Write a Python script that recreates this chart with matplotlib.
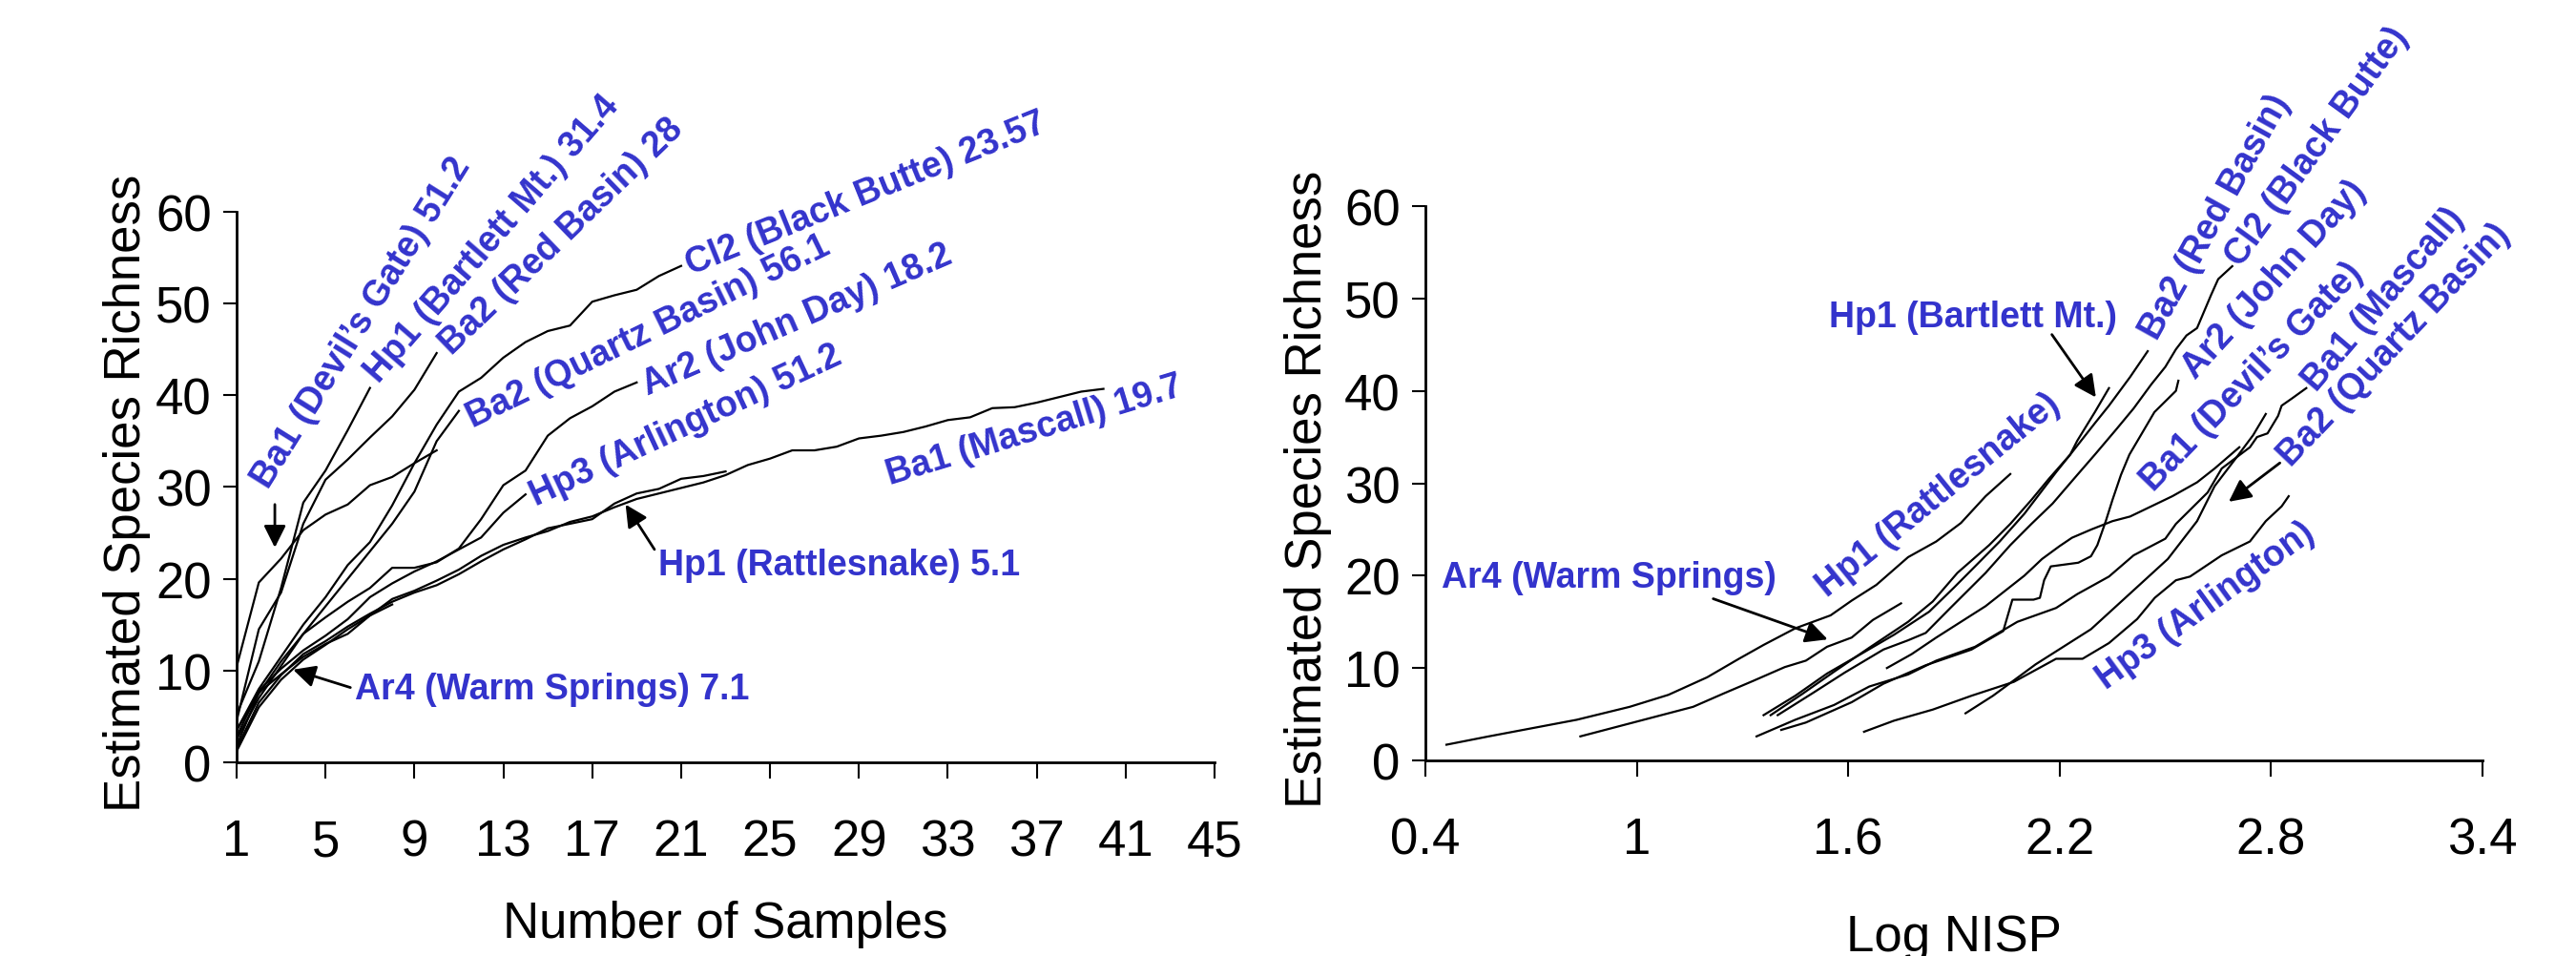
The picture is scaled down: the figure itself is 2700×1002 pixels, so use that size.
import matplotlib
matplotlib.use("Agg")
import matplotlib.pyplot as plt
import numpy as np

plt.rcParams['font.family'] = ['Liberation Sans', 'DejaVu Sans']

# ---------------- data: left panel (species richness vs number of samples) ----------------
S_devils_L = [10.4, 19.6, 22.2, 25.3, 27.0, 28.1, 30.2, 31.1, 32.6, 34.0]
S_bartlett_L = [5.2, 11.0, 19.0, 28.3, 31.8, 36.2, 40.8]
S_redbasin_L = [4.5, 14.5, 18.5, 26.0, 30.8, 33.0, 35.4, 37.7, 40.6, 44.6]
S_blackbutte_L = [3.5, 8.0, 11.5, 15.0, 18.0, 21.5, 24.0, 28.0, 32.6, 36.8, 40.4, 41.9, 44.1,
                  45.8, 47.0, 47.6, 50.2, 50.9, 51.5, 53.0, 54.1]
S_quartz_L = [2.5, 7.0, 10.5, 14.0, 17.0, 20.0, 23.0, 26.0, 29.5, 35.0, 38.3]
S_johnday_L = [3.5, 7.5, 11.0, 14.0, 15.8, 17.5, 19.0, 21.2, 21.2, 21.8, 23.3, 26.5, 30.2, 31.8,
               35.6, 37.5, 38.8, 40.4, 41.4]
S_arlington_L = [2.8, 7.8, 10.2, 12.2, 13.8, 15.6, 18.0, 19.5, 20.8, 21.9, 23.2, 24.5, 27.2, 29.2]
S_mascall_L = [1.8, 7.6, 9.6, 11.5, 12.9, 14.0, 16.0, 17.8, 18.7, 19.8, 21.0, 22.5, 23.7, 24.5,
               25.2, 26.2, 26.8, 27.8, 28.7, 29.3, 29.9, 30.5, 31.3, 32.4, 33.1, 34.0, 34.0, 34.4,
               35.3, 35.6, 36.0, 36.6, 37.3, 37.6, 38.6, 38.7, 39.2, 39.8, 40.4, 40.7]
S_rattle_L = [1.5, 6.5, 9.5, 11.8, 13.2, 14.8, 16.2, 17.5, 18.5, 19.3, 20.5, 21.9, 23.2, 24.3,
              25.5, 26.0, 26.5, 28.2, 29.3, 29.8, 30.9, 31.2, 31.7]
S_warm_L = [1.2, 6.0, 9.0, 11.2, 12.8, 14.5, 16.0, 17.2]

left_series = [S_devils_L, S_bartlett_L, S_redbasin_L, S_blackbutte_L, S_quartz_L,
               S_johnday_L, S_arlington_L, S_mascall_L, S_rattle_L, S_warm_L]

# ---------------- data: right panel (species richness vs log NISP) ----------------
L_rattle = [0.46, 0.58, 0.83, 0.98, 1.09, 1.20, 1.29, 1.36, 1.45, 1.55, 1.61, 1.68, 1.77, 1.85, 1.92, 1.99, 2.06]
S_rattle = [1.7, 2.6, 4.4, 5.8, 7.1, 9.0, 11.0, 12.5, 14.3, 15.7, 17.3, 19.0, 22.0, 23.7, 25.7, 28.6, 31.0]
L_warm = [0.84, 1.02, 1.16, 1.25, 1.33, 1.42, 1.48, 1.54, 1.61, 1.67, 1.75]
S_warm = [2.6, 4.4, 5.8, 7.3, 8.6, 10.1, 10.8, 12.3, 13.3, 15.2, 17.0]
L_bartlett = [1.36, 1.45, 1.54, 1.64, 1.73, 1.77, 1.83, 1.90, 1.96, 2.03, 2.10, 2.16, 2.19, 2.23, 2.25, 2.30, 2.34]
S_bartlett = [4.9, 7.0, 9.4, 11.6, 13.6, 14.6, 16.1, 18.7, 21.0, 23.7, 26.7, 29.7, 31.2, 33.1, 34.6, 37.7, 40.3]
L_redbasin = [1.38, 1.47, 1.56, 1.66, 1.77, 1.84, 1.91, 2.00, 2.06, 2.12, 2.17, 2.23, 2.30, 2.34, 2.40, 2.45]
S_redbasin = [4.9, 7.2, 9.6, 12.2, 15.0, 17.2, 20.3, 23.3, 25.6, 28.2, 30.5, 33.1, 36.5, 38.4, 41.5, 44.3]
L_blackbutte = [1.40, 1.50, 1.59, 1.70, 1.77, 1.82, 1.89, 1.99, 2.06, 2.12, 2.18, 2.25, 2.30, 2.36, 2.41, 2.46,
                2.50, 2.53, 2.56, 2.59, 2.63, 2.65, 2.69]
S_blackbutte = [4.9, 7.3, 9.5, 12.0, 13.0, 13.8, 16.5, 20.3, 23.3, 25.6, 27.8, 30.9, 33.1, 35.8, 38.1, 40.7,
                42.6, 44.5, 46.0, 46.8, 50.4, 52.1, 53.5]
L_johnday = [1.41, 1.48, 1.61, 1.70, 1.82, 1.95, 2.04, 2.066, 2.126, 2.144, 2.156, 2.175, 2.253, 2.289, 2.307,
             2.331, 2.35, 2.374, 2.398, 2.469, 2.53, 2.537]
S_johnday = [3.3, 4.1, 6.3, 8.3, 10.3, 12.0, 14.0, 17.4, 17.4, 17.6, 19.5, 21.0, 21.4, 22.1, 23.3,
             25.9, 28.2, 30.9, 33.1, 37.7, 40.0, 41.1]
L_devils = [1.71, 1.78, 1.85, 1.92, 1.99, 2.05, 2.10, 2.15, 2.20, 2.235, 2.29, 2.35, 2.40, 2.46, 2.52, 2.59, 2.64, 2.71]
S_devils = [10.0, 11.5, 13.3, 15.0, 16.7, 18.5, 20.0, 21.8, 23.2, 24.1, 25.0, 25.9, 26.4, 27.5, 28.6, 30.1, 31.6, 33.9]
L_mascall = [1.34, 1.45, 1.56, 1.66, 1.77, 1.85, 1.96, 2.08, 2.19, 2.25, 2.34, 2.41, 2.50, 2.53, 2.62, 2.66,
             2.74, 2.76, 2.79, 2.82, 2.83, 2.86, 2.90]
S_mascall = [2.6, 4.4, 6.0, 8.0, 9.3, 10.8, 12.3, 15.0, 16.5, 18.0, 19.9, 22.2, 24.0, 25.6, 29.0, 31.6,
             33.9, 35.0, 35.4, 37.3, 38.4, 39.2, 40.3]
L_arlington = [1.645, 1.73, 1.84, 1.95, 2.07, 2.19, 2.265, 2.34, 2.42, 2.47, 2.53, 2.57, 2.66, 2.74, 2.785, 2.83, 2.85]
S_arlington = [3.1, 4.3, 5.5, 7.0, 8.5, 11.0, 11.0, 12.7, 15.3, 17.6, 19.5, 19.9, 22.2, 23.7, 25.9, 27.5, 28.6]
L_quartz = [1.933, 2.011, 2.132, 2.289, 2.398, 2.507, 2.59, 2.64, 2.70, 2.749, 2.785]
S_quartz = [5.1, 7.0, 10.4, 14.2, 18.0, 21.8, 25.9, 29.7, 32.7, 35.2, 37.5]

right_series = [(L_rattle, S_rattle), (L_warm, S_warm), (L_bartlett, S_bartlett),
                (L_redbasin, S_redbasin), (L_blackbutte, S_blackbutte), (L_johnday, S_johnday),
                (L_devils, S_devils), (L_mascall, S_mascall), (L_arlington, S_arlington),
                (L_quartz, S_quartz)]

x_ticks_left = list(range(1, 46, 4))
x_ticks_right = [0.4, 1.0, 1.6, 2.2, 2.8, 3.4]
x_ticklabels_right = ['0.4', '1', '1.6', '2.2', '2.8', '3.4']
y_ticks = [0, 10, 20, 30, 40, 50, 60]

# labels: (text, x, y, rotation)
left_labels = [
    ("Ba1 (Devil\u2019s Gate) 51.2", 6.6, 48.0, 58),
    ("Hp1 (Bartlett Mt.) 31.4", 12.5, 57.1, 49),
    ("Ba2 (Red Basin) 28", 15.6, 57.4, 44),
    ("Cl2 (Black Butte) 23.57", 29.3, 62.0, 22),
    ("Ba2 (Quartz Basin) 56.1", 19.5, 47.0, 26),
    ("Ar2 (John Day) 18.2", 26.2, 48.3, 23.5),
    ("Hp3 (Arlington) 51.2", 21.2, 36.8, 25),
    ("Ba1 (Mascall) 19.7", 36.9, 36.2, 17),
    ("Hp1 (Rattlesnake) 5.1", 28.1, 21.5, 0),
    ("Ar4 (Warm Springs) 7.1", 15.2, 8.0, 0),
]
left_arrows = [((2.72, 28.1), (2.72, 23.4)), ((19.8, 23.2), (18.5, 28.1)), ((6.12, 8.15), (3.54, 10.1))]

right_labels = [
    ("Hp1 (Bartlett Mt.)", 1.953, 48.0, 0),
    ("Ba2 (Red Basin)", 2.643, 58.9, 61),
    ("Cl2 (Black Butte)", 2.93, 66.5, 54),
    ("Ar2 (John Day)", 2.809, 52.1, 47.6),
    ("Ba1 (Devil\u2019s Gate)", 2.746, 41.6, 46),
    ("Ba1 (Mascall)", 3.118, 50.0, 49.5),
    ("Ba2 (Quartz Basin)", 3.15, 45.0, 46.5),
    ("Hp1 (Rattlesnake)", 1.855, 28.8, 39),
    ("Hp3 (Arlington)", 2.614, 16.8, 36),
    ("Ar4 (Warm Springs)", 0.922, 19.8, 0),
]
right_arrows = [((2.178, 46.1), (2.303, 39.3)), ((1.217, 17.5), (1.542, 13.1)), ((2.825, 32.2), (2.68, 28.0))]

BLUE = '#3333CC'
FS = 38
LFS = 27

fig = plt.figure(figsize=(27, 10.03), dpi=100)
axL = fig.add_axes([0.09185, 0.2024, 0.37965, 0.5753])
axR = fig.add_axes([0.5533, 0.2044, 0.4104, 0.5792])


def style(ax):
    for s in ['top', 'right']:
        ax.spines[s].set_visible(False)
    for s in ['left', 'bottom']:
        ax.spines[s].set_linewidth(2.0)
    ax.tick_params(axis='x', direction='out', length=12, width=1.5, pad=30, labelsize=FS)
    ax.tick_params(axis='y', direction='out', length=10, width=1.5, pad=9, labelsize=FS)
    ax.set_ylim(0, 60)
    ax.set_yticks(y_ticks)
    ax.set_ylabel("Estimated Species Richness", fontsize=FS)
    ax.yaxis.set_label_coords(-0.088, 0.49)


# left panel
for S in left_series:
    axL.plot(np.arange(1, len(S) + 1), S, color='black', lw=1.6, solid_joinstyle='round')
axL.set_xlim(1, 45)
axL.set_xticks(x_ticks_left)
style(axL)
axL.set_xlabel("Number of Samples", fontsize=FS)
axL.xaxis.set_label_coords(0.5, -0.25)
for txt, x, y, r in left_labels:
    axL.text(x, y, txt, rotation=r, rotation_mode='anchor', ha='center', va='center',
             fontsize=LFS, fontweight='bold', color=BLUE, clip_on=False)
for tail, head in left_arrows:
    axL.annotate('', xy=head, xytext=tail,
                 arrowprops=dict(arrowstyle='-|>', color='black', lw=2, mutation_scale=35,
                                 shrinkA=0, shrinkB=0))

# right panel
for L, S in right_series:
    axR.plot(L, S, color='black', lw=1.6, solid_joinstyle='round')
axR.set_xlim(0.4, 3.4)
axR.set_xticks(x_ticks_right)
axR.set_xticklabels(x_ticklabels_right)
style(axR)
axR.set_xlabel("Log NISP", fontsize=FS)
axR.xaxis.set_label_coords(0.5, -0.275)
for txt, x, y, r in right_labels:
    axR.text(x, y, txt, rotation=r, rotation_mode='anchor', ha='center', va='center',
             fontsize=LFS, fontweight='bold', color=BLUE, clip_on=False)
for tail, head in right_arrows:
    axR.annotate('', xy=head, xytext=tail,
                 arrowprops=dict(arrowstyle='-|>', color='black', lw=2, mutation_scale=35,
                                 shrinkA=0, shrinkB=0))

fig.savefig('out.png', dpi=100)
